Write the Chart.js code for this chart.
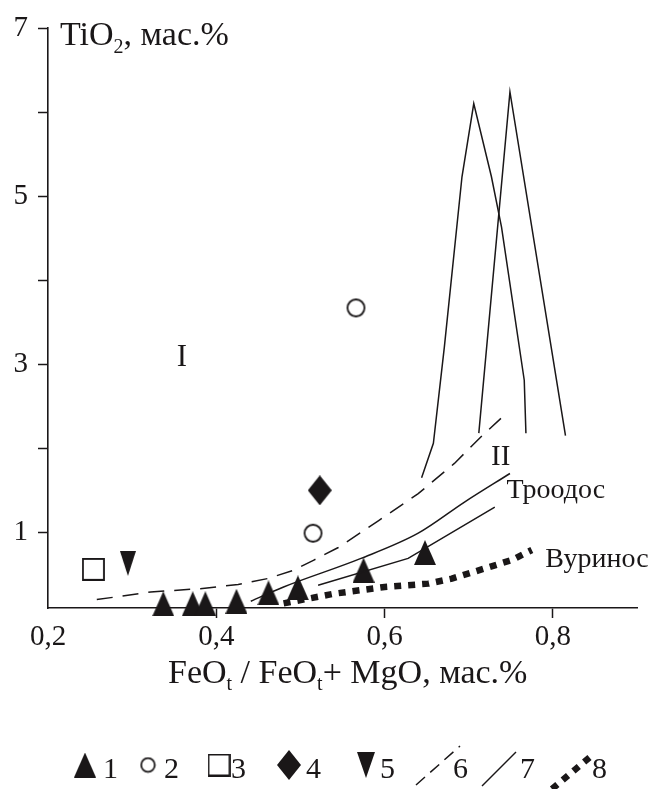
<!DOCTYPE html>
<html>
<head>
<meta charset="utf-8">
<script src="https://cdn.jsdelivr.net/npm/chart.js@4.4.0/dist/chart.umd.min.js"></script>
<style>
  html, body { margin: 0; padding: 0; background: #fff; }
  #chart { display: block; }
</style>
</head>
<body>
<canvas id="chart" width="648" height="789"></canvas>
<script>
// TiO2 vs FeOt/(FeOt+MgO)
const xTicks = [0.2, 0.4, 0.6, 0.8];
const yTicks = [1, 2, 3, 4, 5, 6, 7];

// 1 - triangles
const triX = [0.337, 0.372, 0.387, 0.424, 0.462, 0.497, 0.575, 0.648];
const triY = [0.15, 0.15, 0.15, 0.18, 0.28, 0.34, 0.55, 0.76];
// 2 - open circles
const circX = [0.566, 0.515];
const circY = [3.67, 0.99];
// 3 - open square
const sqX = [0.254];
const sqY = [0.56];
// 4 - diamond
const diaX = [0.523];
const diaY = [1.5];
// 5 - down triangle
const downX = [0.295];
const downY = [0.63];

// 6 - dashed boundary
const dashX = [0.258, 0.322, 0.381, 0.426, 0.461, 0.492, 0.516, 0.545, 0.593, 0.640, 0.683, 0.716, 0.742];
const dashY = [0.20, 0.29, 0.33, 0.38, 0.45, 0.55, 0.67, 0.82, 1.14, 1.46, 1.82, 2.15, 2.39];
// 7 - solid lines (Троодос pair + two spikes)
const upX = [0.441, 0.480, 0.572, 0.640, 0.695, 0.749];
const upY = [0.18, 0.35, 0.69, 0.99, 1.36, 1.70];
const lowX = [0.521, 0.628, 0.731];
const lowY = [0.37, 0.69, 1.30];
const spikeAX = [0.644, 0.658, 0.671, 0.692, 0.706, 0.727, 0.739, 0.766, 0.768];
const spikeAY = [1.65, 2.06, 3.20, 5.23, 6.10, 5.23, 4.63, 2.81, 2.18];
const spikeBX = [0.712, 0.749, 0.815];
const spikeBY = [2.18, 6.24, 2.15];
// 8 - dotted (Вуринос)
const dotX = [0.480, 0.540, 0.600, 0.652, 0.680, 0.719, 0.751, 0.775];
const dotY = [0.155, 0.27, 0.35, 0.39, 0.45, 0.57, 0.67, 0.79];

// text in the plot
const fieldLabels = [
    { text: 'I', x: 0.359, y: 3.08, size: 31, align: 'center' },
    { text: 'II', x: 0.738, y: 1.89, size: 29, align: 'center' },
    { text: 'Троодос', x: 0.745, y: 1.50, size: 28, align: 'left' },
    { text: 'Вуринос', x: 0.791, y: 0.67, size: 28, align: 'left' }
];
const legendLabels = ['1', '2', '3', '4', '5', '6', '7', '8'];

const ink = '#1a1718';
const serif = "'Liberation Serif', 'Times New Roman', serif";

const pts = (xs, ys) => xs.map((x, i) => ({ x: x, y: ys[i] }));

function marker(w, h, draw) {
    const c = document.createElement('canvas');
    c.width = w;
    c.height = h;
    const ctx = c.getContext('2d');
    ctx.fillStyle = ink;
    ctx.strokeStyle = ink;
    ctx.lineWidth = 1.8;
    ctx.beginPath();
    draw(ctx, w, h);
    return c;
}

const triUp = marker(22, 25, (ctx, w, h) => {
    ctx.moveTo(w / 2, 0); ctx.lineTo(w, h); ctx.lineTo(0, h); ctx.closePath(); ctx.fill();
});
const circle = marker(21, 21, (ctx) => {
    ctx.arc(10.5, 10.5, 8.5, 0, Math.PI * 2); ctx.stroke();
});
const square = marker(23, 23, (ctx) => {
    ctx.rect(1, 1, 21, 21); ctx.stroke();
});
const diamond = marker(24, 30, (ctx, w, h) => {
    ctx.moveTo(w / 2, 0); ctx.lineTo(w, h / 2); ctx.lineTo(w / 2, h); ctx.lineTo(0, h / 2); ctx.closePath(); ctx.fill();
});
const triDown = marker(16, 25, (ctx, w, h) => {
    ctx.moveTo(0, 0); ctx.lineTo(w, 0); ctx.lineTo(w / 2, h); ctx.closePath(); ctx.fill();
});
// legend versions of a few markers are a bit different in size
const smallCircle = marker(17, 17, (ctx) => {
    ctx.arc(8.5, 8.5, 6.8, 0, Math.PI * 2); ctx.stroke();
});
const bigTriDown = marker(18, 26, (ctx, w, h) => {
    ctx.moveTo(0, 0); ctx.lineTo(w, 0); ctx.lineTo(w / 2, h); ctx.closePath(); ctx.fill();
});

function pointSet(xs, ys, style) {
    return { data: pts(xs, ys), pointStyle: style, pointRadius: 5, showLine: false, clip: false };
}
function lineSet(xs, ys, extra) {
    return Object.assign({
        data: pts(xs, ys), showLine: true, pointRadius: 0, borderColor: ink,
        borderWidth: 1.5, tension: 0, fill: false, clip: false
    }, extra || {});
}

// titles, field labels and the legend strip
const decorations = {
    id: 'decorations',
    afterDraw(chart) {
        const ctx = chart.ctx;
        const xs = chart.scales.x, ys = chart.scales.y;
        ctx.save();
        ctx.fillStyle = ink;
        ctx.strokeStyle = ink;
        ctx.textBaseline = 'alphabetic';

        // y title
        ctx.font = '34px ' + serif;
        ctx.textAlign = 'left';
        let x = 60;
        ctx.fillText('TiO', x, 45); x += ctx.measureText('TiO').width;
        ctx.font = '20px ' + serif;
        ctx.fillText('2', x, 53); x += ctx.measureText('2').width;
        ctx.font = '34px ' + serif;
        ctx.fillText(', мас.%', x, 45);

        // x title
        const parts = [['FeO', 0], ['t', 1], [' / FeO', 0], ['t', 1], ['+ MgO, мас.%', 0]];
        x = 168;
        parts.forEach(p => {
            ctx.font = (p[1] ? '20px ' : '34px ') + serif;
            ctx.fillText(p[0], x, p[1] ? 690 : 683);
            x += ctx.measureText(p[0]).width;
        });

        // field labels
        ctx.textBaseline = 'middle';
        fieldLabels.forEach(l => {
            ctx.font = l.size + 'px ' + serif;
            ctx.textAlign = l.align;
            ctx.fillText(l.text, xs.getPixelForValue(l.x), ys.getPixelForValue(l.y));
        });

        // legend
        const ly = 765;
        ctx.font = '30px ' + serif;
        ctx.textAlign = 'left';
        ctx.textBaseline = 'alphabetic';
        const marks = [[triUp, 85], [smallCircle, 148], [square, 219], [diamond, 289], [bigTriDown, 366]];
        marks.forEach(m => ctx.drawImage(m[0], m[1] - m[0].width / 2, ly - m[0].height / 2));
        const digitX = [103, 164, 231, 306, 380, 453, 520, 592];
        legendLabels.forEach((t, i) => ctx.fillText(t, digitX[i], 778));

        ctx.lineWidth = 1.5;
        ctx.setLineDash([12, 7]);
        ctx.beginPath(); ctx.moveTo(416, 785); ctx.lineTo(460, 746); ctx.stroke();
        ctx.setLineDash([]);
        ctx.beginPath(); ctx.moveTo(482, 786); ctx.lineTo(516, 752); ctx.stroke();
        ctx.lineWidth = 6.5;
        ctx.setLineDash([7, 7]);
        ctx.beginPath(); ctx.moveTo(552, 789); ctx.lineTo(590, 757); ctx.stroke();
        ctx.restore();
    }
};

const tickFont = { family: serif, size: 29 };

new Chart(document.getElementById('chart'), {
    type: 'scatter',
    data: {
        datasets: [
            lineSet(dashX, dashY, { borderDash: [16, 10] }),
            lineSet(upX, upY, { cubicInterpolationMode: 'monotone' }),
            lineSet(lowX, lowY),
            lineSet(spikeAX, spikeAY),
            lineSet(spikeBX, spikeBY),
            lineSet(dotX, dotY, { borderDash: [7, 7], borderWidth: 6.5, borderCapStyle: 'butt' }),
            pointSet(triX, triY, triUp),
            pointSet(circX, circY, circle),
            pointSet(sqX, sqY, square),
            pointSet(diaX, diaY, diamond),
            pointSet(downX, downY, triDown)
        ]
    },
    options: {
        responsive: false,
        animation: false,
        events: [],
        layout: { padding: { top: 28, right: 11, left: 0, bottom: 0 } },
        plugins: { legend: { display: false }, tooltip: { enabled: false } },
        scales: {
            x: {
                type: 'linear',
                min: 0.2,
                max: 0.9,
                afterBuildTicks: s => { s.ticks = xTicks.map(v => ({ value: v })); },
                afterFit: s => { s.height = 181; },
                grid: {
                    drawOnChartArea: false,
                    tickLength: 10,
                    tickWidth: 1.5,
                    tickColor: c => (c.tick && c.tick.value === 0.2) ? 'rgba(0,0,0,0)' : ink
                },
                border: { color: ink, width: 1.6 },
                ticks: {
                    color: ink, font: tickFont, padding: 2, maxRotation: 0, autoSkip: false,
                    callback: v => v.toFixed(1).replace('.', ',')
                }
            },
            y: {
                type: 'linear',
                min: 0.1,
                max: 7,
                afterBuildTicks: s => { s.ticks = yTicks.map(v => ({ value: v })); },
                afterFit: s => { s.width = 48; },
                grid: { drawOnChartArea: false, tickLength: 10, tickWidth: 1.5, tickColor: ink },
                border: { color: ink, width: 1.6 },
                ticks: {
                    color: ink, font: tickFont, padding: 10, autoSkip: false,
                    callback: v => (v % 2 === 1 ? String(v) : '')
                }
            }
        }
    },
    plugins: [decorations]
});
</script>
</body>
</html>
